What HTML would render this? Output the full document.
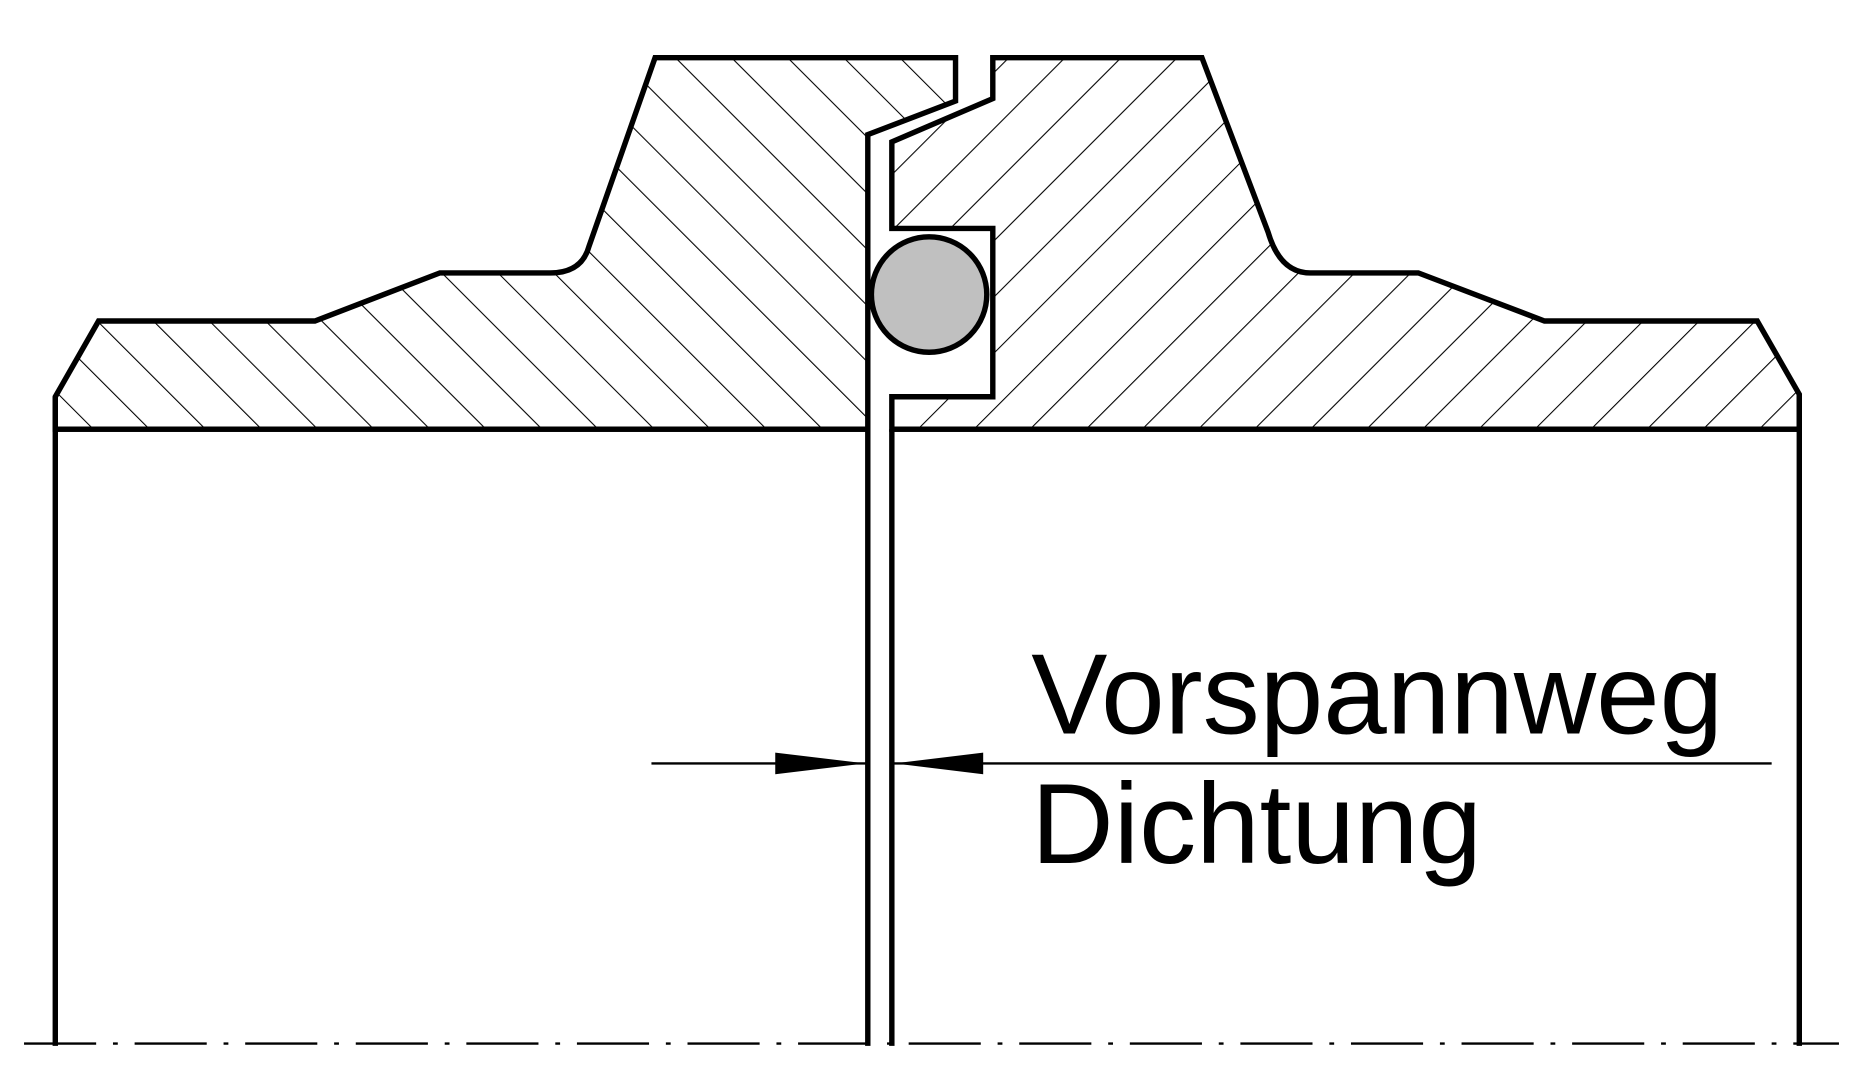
<!DOCTYPE html>
<html><head><meta charset="utf-8"><style>
html,body{margin:0;padding:0;background:#fff;}
svg{display:block;}
</style></head><body>
<svg width="1863" height="1082" viewBox="0 0 1550 900" preserveAspectRatio="none" xmlns="http://www.w3.org/2000/svg">
<defs>
<pattern id="hl" patternUnits="userSpaceOnUse" width="33" height="33" patternTransform="rotate(-45)">
<line x1="0" y1="0" x2="0" y2="33" stroke="#000" stroke-width="1.8"/>
</pattern>
<pattern id="hr" patternUnits="userSpaceOnUse" width="33" height="33" patternTransform="rotate(45)">
<line x1="0" y1="0" x2="0" y2="33" stroke="#000" stroke-width="1.8"/>
</pattern>
</defs>
<g stroke="#000" stroke-width="4.5" stroke-linejoin="miter" fill="none">
<path fill="url(#hl)" d="M46,330 L82,267 L262,267 L366,227 L458,227 Q484,227 490,205 L545,48 L795,48 L795,84 L722,112 L722,357 L46,357 Z"/>
<path fill="url(#hr)" d="M826,48 L1000,48 L1055,193 Q1065,227 1090,227 L1180,227 L1285,267 L1462,267 L1497,328 L1497,357 L742,357 L742,330 L826,330 L826,190 L742,190 L742,118 L826,82 Z"/>
<line x1="46" y1="330" x2="46" y2="870"/>
<line x1="1497" y1="328" x2="1497" y2="870"/>
<line x1="722" y1="357" x2="722" y2="870"/>
<line x1="742" y1="357" x2="742" y2="870"/>
<line x1="46" y1="357" x2="722" y2="357"/>
<line x1="742" y1="357" x2="1497" y2="357"/>
<circle cx="773" cy="245" r="48" fill="#c0c0c0"/>
</g>
<line x1="20" y1="868" x2="1530" y2="868" stroke="#000" stroke-width="2" stroke-dasharray="60,14,4,14"/>
<g stroke="#000" stroke-width="2">
<line x1="542" y1="635" x2="722" y2="635"/>
<line x1="742" y1="635" x2="1474" y2="635"/>
</g>
<polygon points="720,635 645,626 645,644" fill="#000"/>
<polygon points="744,635 818,626 818,644" fill="#000"/>
<g font-family="Liberation Sans, sans-serif" font-size="95" fill="#000">
<text x="858" y="610">Vorspannweg</text>
<text x="858" y="718">Dichtung</text>
</g>
</svg>
</body></html>
